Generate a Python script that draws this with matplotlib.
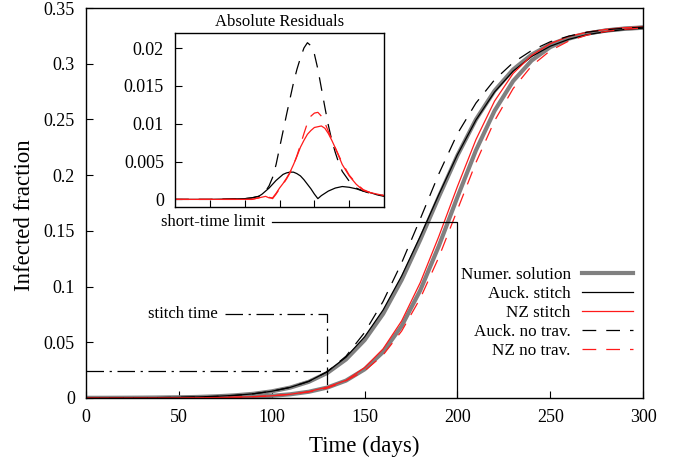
import matplotlib
matplotlib.use("Agg")
import matplotlib.pyplot as plt

# Valores (fracción infectada vs días)
days = [0, 10, 20, 30, 40, 50, 60, 70, 80, 90, 100, 110, 120, 130, 140, 150,
        160, 170, 180, 190, 200, 210, 220, 230, 240, 250, 260, 270, 280, 290, 300]

numer_auck = [0.00006, 0.00009, 0.00015, 0.00023, 0.00037, 0.00059, 0.00094, 0.00149,
              0.00236, 0.00374, 0.00594, 0.00933, 0.01456, 0.02254, 0.0346, 0.0519,
              0.0755, 0.1060, 0.1420, 0.1805, 0.2176, 0.2500, 0.2757, 0.2948, 0.3082,
              0.3173, 0.3233, 0.3272, 0.3297, 0.3313, 0.3323]
numer_nz = [0.00001, 0.00002, 0.00003, 0.00005, 0.00008, 0.00014, 0.00024, 0.00040,
            0.00068, 0.00116, 0.00196, 0.00332, 0.0056, 0.0094, 0.0156, 0.0257,
            0.0413, 0.0646, 0.0966, 0.1364, 0.1802, 0.2223, 0.2577, 0.2844, 0.3029,
            0.3149, 0.3225, 0.3271, 0.3299, 0.3316, 0.3326]
stitch_auck = [0.00006, 0.00009, 0.00015, 0.00023, 0.00037, 0.00059, 0.00094, 0.00149,
               0.00236, 0.00374, 0.00604, 0.00953, 0.01496, 0.02364, 0.0366, 0.0548,
               0.0790, 0.1096, 0.1451, 0.1825, 0.2183, 0.2495, 0.2746, 0.2933, 0.3065,
               0.3157, 0.3219, 0.3261, 0.3288, 0.3307, 0.3319]
stitch_nz = [0.00001, 0.00002, 0.00003, 0.00005, 0.00008, 0.00014, 0.00024, 0.00040,
             0.00068, 0.00116, 0.00196, 0.00332, 0.0058, 0.0098, 0.0158, 0.0272,
             0.0441, 0.0692, 0.1035, 0.1450, 0.1897, 0.2319, 0.2664, 0.2912, 0.3075,
             0.3180, 0.3245, 0.3283, 0.3308, 0.3323, 0.3331]
notrav_auck = [0.00006, 0.00009, 0.00015, 0.00023, 0.00037, 0.00059, 0.00094, 0.00149,
               0.00236, 0.00374, 0.00604, 0.00953, 0.01496, 0.02364, 0.0375, 0.0587,
               0.0867, 0.1214, 0.1607, 0.2011, 0.2371, 0.2647, 0.2855, 0.3010, 0.3119,
               0.3197, 0.3248, 0.3283, 0.3305, 0.3319, 0.3328]
notrav_nz = [0.00001, 0.00002, 0.00003, 0.00005, 0.00008, 0.00014, 0.00024, 0.00040,
             0.00068, 0.00116, 0.00196, 0.00332, 0.0054, 0.0089, 0.0155, 0.0243,
             0.0386, 0.0601, 0.0894, 0.1263, 0.1688, 0.2113, 0.2487, 0.2776, 0.2981,
             0.3117, 0.3204, 0.3258, 0.3290, 0.3309, 0.3321]

# Residuos absolutos (recuadro)
res_days = [0, 50, 100, 110, 120, 125, 130, 135, 140, 145, 150, 155, 160, 165, 170,
            175, 180, 185, 190, 195, 200, 205, 210, 215, 220, 225, 230, 235, 240,
            250, 260, 270, 280, 290, 300]
res_stitch_auck = [0, 0, 0.0001, 0.0002, 0.0004, 0.0007, 0.0011, 0.0015, 0.0020, 0.0025,
                   0.0029, 0.0033, 0.0035, 0.0036, 0.0036, 0.0034, 0.0031, 0.0026, 0.0020,
                   0.0014, 0.0007, 0.0001, 0.0005, 0.0008, 0.0011, 0.0013, 0.0015, 0.0016,
                   0.0017, 0.0016, 0.0014, 0.0011, 0.0009, 0.0006, 0.0004]
res_notrav_auck = [0, 0, 0.0001, 0.0002, 0.0004, 0.0007, 0.0011, 0.0018, 0.0029, 0.0046,
                   0.0068, 0.0090, 0.0112, 0.0133, 0.0154, 0.0172, 0.0187, 0.0200, 0.0207,
                   0.0203, 0.0192, 0.0172, 0.0147, 0.0122, 0.0098, 0.0078, 0.0062, 0.0048,
                   0.0037, 0.0024, 0.0015, 0.0011, 0.0008, 0.0006, 0.0005]
res_stitch_nz = [0, 0, 0, 0, 0.0002, 0.0003, 0.0004, 0.0002, 0.0002, 0.0008,
                 0.0015, 0.0021, 0.0028, 0.0036, 0.0046, 0.0057, 0.0069, 0.0078, 0.0086,
                 0.0091, 0.0095, 0.0096, 0.0097, 0.0094, 0.0087, 0.0078, 0.0068, 0.0057,
                 0.0046, 0.0031, 0.0020, 0.0012, 0.0009, 0.0007, 0.0005]
res_notrav_nz = [0, 0, 0, 0, 0.0002, 0.0004, 0.0005, 0.0003, 0.0001, 0.0007,
                 0.0014, 0.0020, 0.0027, 0.0035, 0.0045, 0.0058, 0.0072, 0.0087, 0.0101,
                 0.0110, 0.0114, 0.0115, 0.0110, 0.0101, 0.0090, 0.0079, 0.0068, 0.0058,
                 0.0048, 0.0032, 0.0021, 0.0013, 0.0009, 0.0007, 0.0005]

# Marcas de anotación
stitch_day = 130
stitch_level = 0.024
stitch_text_y = 0.0754
short_day = 200
short_level = 0.158

plt.rcParams['font.family'] = ['Liberation Serif', 'DejaVu Serif']
plt.rcParams['font.size'] = 13

gray = '#808080'
red = '#ff1a1a'
dash = (11, 8)
dashdot = (14, 4.5, 1.8, 4.5)

fig = plt.figure(figsize=(6.81, 4.63), dpi=100)
ax = fig.add_axes([0.1263, 0.1404, 0.818, 0.8423])

ax.plot(days, numer_auck, color=gray, lw=3.0, label='Numer. solution')
ax.plot(days, numer_nz, color=gray, lw=3.0)
ax.plot(days, stitch_auck, color='black', lw=0.9, label='Auck. stitch')
ax.plot(days, stitch_nz, color=red, lw=0.9, label='NZ stitch')
ax.plot(days, notrav_auck, color='black', lw=0.9, dashes=dash, label='Auck. no trav.')
ax.plot(days, notrav_nz, color=red, lw=0.9, dashes=dash, label='NZ no trav.')

# Líneas de "stitch time" y "short-time limit"
ax.plot([0, stitch_day], [stitch_level, stitch_level], color='black', lw=0.9, dashes=dashdot)
ax.plot([75, stitch_day, stitch_day], [stitch_text_y, stitch_text_y, 0], color='black',
        lw=0.9, dashes=dashdot)
ax.text(71, stitch_text_y, 'stitch time', ha='right', va='center', fontsize=12)
ax.plot([100, short_day, short_day], [short_level, short_level, 0], color='black', lw=0.9)
ax.text(96.5, short_level, 'short-time limit', ha='right', va='center', fontsize=12)

ax.set_xlim(0, 300)
ax.set_ylim(0, 0.35)
ax.set_xticks([0, 50, 100, 150, 200, 250, 300])
ax.set_yticks([0, 0.05, 0.1, 0.15, 0.2, 0.25, 0.3, 0.35])
ax.set_yticklabels(['0', '0.05', '0.1', '0.15', '0.2', '0.25', '0.3', '0.35'])
ax.tick_params(direction='in', length=5, pad=8, top=False, right=False)
ax.set_xlabel('Time (days)', fontsize=16.5, labelpad=7)
ax.set_ylabel('Infected fraction', fontsize=16.5)
ax.yaxis.set_label_coords(-0.091, 0.47)
for s in ax.spines.values():
    s.set_linewidth(1.0)

ax.legend(loc='upper right', bbox_to_anchor=(0.982, 0.336), frameon=False,
          markerfirst=False, handlelength=3.0, handletextpad=0.65,
          labelspacing=0.17, borderpad=0, borderaxespad=0, fontsize=12.3)

# Recuadro de residuos
axin = fig.add_axes([0.257, 0.553, 0.307, 0.376])
axin.plot(res_days, res_stitch_auck, color='black', lw=0.9)
axin.plot(res_days, res_notrav_auck, color='black', lw=0.9, dashes=dash)
axin.plot(res_days, res_stitch_nz, color=red, lw=0.9)
axin.plot(res_days, res_notrav_nz, color=red, lw=0.9, dashes=dash)
axin.set_xlim(0, 300)
axin.set_ylim(-0.001, 0.022)
axin.set_xticks([50, 100, 150, 200, 250])
axin.set_xticklabels([])
axin.set_yticks([0, 0.005, 0.01, 0.015, 0.02])
axin.set_yticklabels(['0', '0.005', '0.01', '0.015', '0.02'])
axin.tick_params(direction='in', length=5, pad=8, top=False, right=False)
axin.set_title('Absolute Residuals', fontsize=12, pad=5)
for s in axin.spines.values():
    s.set_linewidth(1.0)

fig.savefig('out.png', dpi=100)
